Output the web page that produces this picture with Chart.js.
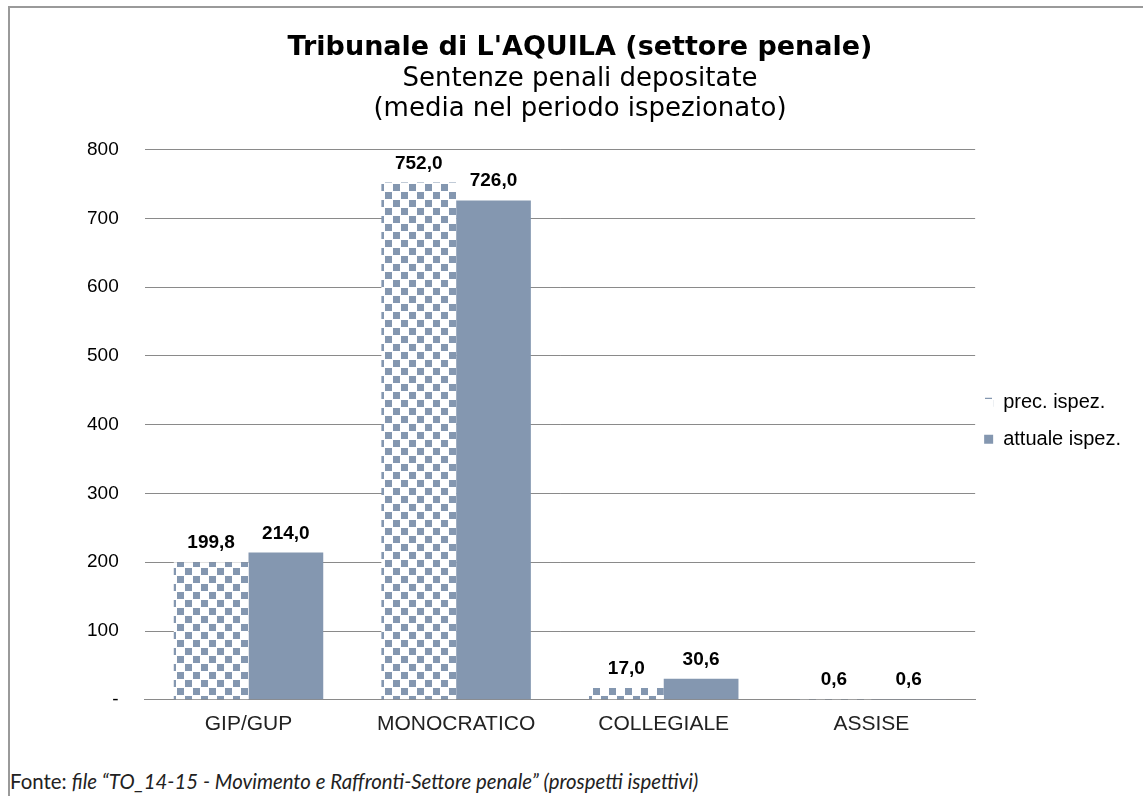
<!DOCTYPE html>
<html>
<head>
<meta charset="utf-8">
<script src="https://cdn.jsdelivr.net/npm/chart.js@4"></script>
<style>
  html, body { margin: 0; padding: 0; background: #fff; overflow: hidden; }
  #frame { position: absolute; left: 8px; top: 6px; width: 1200px; height: 900px; border-left: 2px solid #9a9a9a; border-top: 2px solid #9a9a9a; }
  #wrap { position: absolute; left: 9px; top: 8px; width: 1142px; height: 750px; }
  #source { position: absolute; left: 10px; top: 769px; font: 20.4px Lato, "Open Sans", sans-serif; color: #222; white-space: nowrap; }
  #source i { font-style: italic; }
</style>
</head>
<body>
<div id="frame"></div>
<div id="wrap"><canvas id="chart"></canvas></div>
<div id="source">Fonte: <i>file “TO_14-15 - Movimento e Raffronti-Settore penale” (prospetti ispettivi)</i></div>
<script>
const categories = ['GIP/GUP', 'MONOCRATICO', 'COLLEGIALE', 'ASSISE'];
const seriesNames = ['prec. ispez.', 'attuale ispez.'];
const precValues = [199.8, 752.0, 17.0, 0.6];
const attualeValues = [214.0, 726.0, 30.6, 0.6];
const yTicks = [0, 100, 200, 300, 400, 500, 600, 700, 800];

const barColor = '#8497b0';
const sans = '"Liberation Sans", Arial, sans-serif';

function makeChecker() {
    const c = document.createElement('canvas');
    c.width = 16; c.height = 16;
    const g = c.getContext('2d');
    g.fillStyle = '#fff';
    g.fillRect(0, 0, 16, 16);
    g.fillStyle = barColor;
    g.fillRect(0, 0, 7, 7);
    g.fillRect(8, 8, 7, 7);
    return g.createPattern(c, 'repeat');
}

const fmt = v => v.toFixed(1).replace('.', ',');

const valueLabels = {
    id: 'valueLabels',
    afterDatasetsDraw(chart) {
        const ctx = chart.ctx;
        ctx.save();
        ctx.font = 'bold 19px ' + sans;
        ctx.fillStyle = '#000';
        ctx.textAlign = 'center';
        ctx.textBaseline = 'alphabetic';
        chart.data.datasets.forEach((ds, i) => {
            chart.getDatasetMeta(i).data.forEach((bar, j) => {
                ctx.fillText(fmt(ds.data[j]), bar.x, bar.y - 14);
            });
        });
        ctx.restore();
    }
};

// nudge titles to the canvas centre and the legend a bit left/up, like the original
const placeBoxes = {
    id: 'placeBoxes',
    afterLayout(chart) {
        const mid = chart.width / 2;
        chart.boxes.forEach(b => {
            if (b.position === 'top' && b.fullSize) {
                const shift = mid - (b.left + b.right) / 2;
                b.left += shift; b.right += shift;
            }
        });
        const lg = chart.legend;
        lg.left -= 8; lg.right -= 8;
        lg.top -= 4; lg.bottom -= 4;
    }
};

document.addEventListener('DOMContentLoaded', () => {
    const ctx = document.getElementById('chart').getContext('2d');
    new Chart(ctx, {
        type: 'bar',
        data: {
            labels: categories,
            datasets: [
                { label: seriesNames[0], data: precValues, backgroundColor: makeChecker(), borderWidth: 0 },
                { label: seriesNames[1], data: attualeValues, backgroundColor: barColor, borderWidth: 0 }
            ]
        },
        options: {
            responsive: true,
            maintainAspectRatio: false,
            animation: false,
            categoryPercentage: 0.72,
            barPercentage: 1.0,
            layout: { padding: { left: 52, right: 12, top: 0, bottom: 9 } },
            plugins: {
                title: {
                    display: true,
                    text: "Tribunale di L'AQUILA (settore penale)",
                    font: { family: '"DejaVu Sans", Tahoma, sans-serif', size: 27, weight: 'bold', lineHeight: 1.1 },
                    color: '#000',
                    padding: { top: 25, bottom: 2 }
                },
                subtitle: {
                    display: true,
                    text: ['Sentenze penali depositate', '(media nel periodo ispezionato)'],
                    font: { family: '"DejaVu Sans", Tahoma, sans-serif', size: 26, lineHeight: 1.15 },
                    color: '#000',
                    padding: { top: 0, bottom: 25 }
                },
                legend: {
                    position: 'right',
                    fullSize: false,
                    labels: {
                        boxWidth: 9, boxHeight: 9, padding: 17,
                        font: { family: sans, size: 20 },
                        color: '#000'
                    }
                },
                tooltip: { enabled: false }
            },
            scales: {
                x: {
                    grid: { display: false, drawTicks: false },
                    border: { display: true, color: '#8a8a8a' },
                    ticks: { padding: 12, color: '#222', font: { family: sans, size: 21 } }
                },
                y: {
                    min: 0, max: 800,
                    afterBuildTicks: axis => { axis.ticks = yTicks.map(v => ({ value: v })); },
                    grid: { color: '#8a8a8a', drawTicks: false },
                    border: { display: false },
                    ticks: {
                        padding: 26, color: '#000',
                        font: { family: sans, size: 19 },
                        callback: v => v === 0 ? '-' : String(v)
                    }
                }
            }
        },
        plugins: [valueLabels, placeBoxes]
    });
});
</script>
</body>
</html>
